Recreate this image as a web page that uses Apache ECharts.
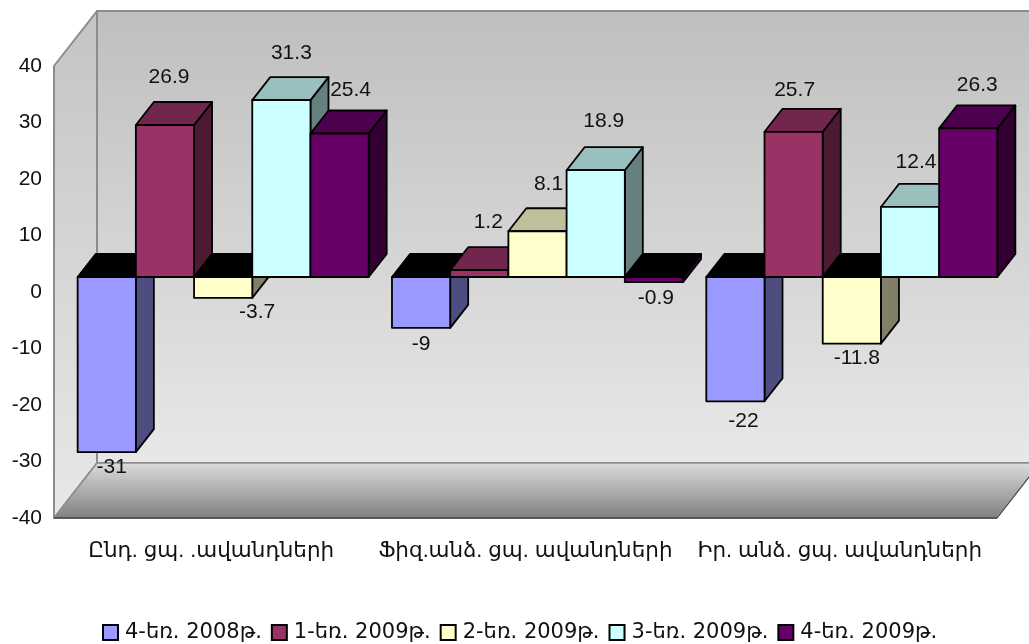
<!DOCTYPE html>
<html>
<head>
<meta charset="utf-8">
<style>html,body{margin:0;padding:0;background:#fff}#c{width:1029px;height:644px}</style>
<script src="https://cdn.jsdelivr.net/npm/echarts@6/dist/echarts.min.js"></script>
</head>
<body>
<div id="c"></div>
<script>
const categories = ['Ընդ. ցպ. .ավանդների', 'Ֆիզ.անձ. ցպ. ավանդների', 'Իր. անձ. ցպ. ավանդների'];
const seriesNames = ['4-եռ. 2008թ.', '1-եռ. 2009թ.', '2-եռ. 2009թ.', '3-եռ. 2009թ.', '4-եռ. 2009թ.'];
const q4_2008 = [-31, -9, -22];
const q1_2009 = [26.9, 1.2, 25.7];
const q2_2009 = [-3.7, 8.1, -11.8];
const q3_2009 = [31.3, 18.9, 12.4];
const q4_2009 = [25.4, -0.9, 26.3];
const yTicks = {min: -40, max: 40, interval: 10};

// styling and layout, separate from the values
const faces = [
  {front: '#9999ff', top: '#7373bf', side: '#4d4d80'},
  {front: '#993366', top: '#73264d', side: '#4d1a33'},
  {front: '#ffffcc', top: '#bfbf99', side: '#808066'},
  {front: '#ccffff', top: '#99bfbf', side: '#668080'},
  {front: '#660066', top: '#4d004d', side: '#330033'}
];
const allValues = [q4_2008, q1_2009, q2_2009, q3_2009, q4_2009];
const labelNudge = [
  [[5, 15], [0, 16], [8, 20]],
  [[4, -48], [9, -48], [1, -42]],
  [[34, 14], [11, -47], [5, 15]],
  [[10, -47], [8, -49], [6, -45]],
  [[11, -43], [2, 16], [9, -43]]
];
const wallDepth = [43, -55];
const barShift = [12, -15];
const barDepth = [18, -23];
const gapRatio = 0.4;
const stroke = '#000';
const labelFont = '21px "Liberation Sans", Arial, sans-serif';

function poly(points, fill, strokeColor, lw, z2) {
  return {type: 'polygon', z2: z2 || 0, shape: {points},
    style: {fill, stroke: strokeColor || stroke, lineWidth: lw === undefined ? 1.8 : lw, lineJoin: 'round'}};
}
function vGrad(a, b) {
  return {type: 'linear', x: 0, y: 0, x2: 0, y2: 1, colorStops: [{offset: 0, color: a}, {offset: 1, color: b}]};
}

function renderWalls(params, api) {
  const g = params.coordSys;
  const [dx, dy] = wallDepth;
  const L = g.x, R = g.x + g.width, T = g.y, B = g.y + g.height;
  return {type: 'group', children: [
    poly([[L + dx, T + dy], [R + dx, T + dy], [R + dx, B + dy], [L + dx, B + dy]], vGrad('#bfbfbf', '#e8e8e8'), '#8c8c8c', 2),
    poly([[L, T], [L + dx, T + dy], [L + dx, B + dy], [L, B]], vGrad('#c4c4c4', '#e8e8e8'), '#8c8c8c', 2),
    poly([[L, B], [L + dx, B + dy], [R + dx, B + dy], [R, B]], vGrad('#dcdcdc', '#7f7f7f'), '#8c8c8c', 1.5),
    {type: 'line', shape: {x1: L, y1: B, x2: R, y2: B}, style: {stroke: '#444', lineWidth: 1.5}},
    {type: 'line', shape: {x1: R, y1: B, x2: R + dx, y2: B + dy}, style: {stroke: '#444', lineWidth: 1}}
  ]};
}

function makeRender(k) {
  return function (params, api) {
    const i = api.value(0), v = api.value(1);
    const band = api.size([1, 0])[0];
    const w = band / (allValues.length + gapRatio);
    const base = api.coord([i, 0]);
    const val = api.coord([i, v]);
    const x0 = base[0] - band / 2 + w * gapRatio / 2 + k * w + barShift[0];
    const x1 = x0 + w;
    const y0 = base[1] + barShift[1];
    const yv = val[1] + barShift[1];
    const yTop = Math.min(y0, yv), yBot = Math.max(y0, yv);
    const [dx, dy] = barDepth;
    const f = faces[k];
    const nudge = labelNudge[k][i];
    return {type: 'group', children: [
      poly([[x1, yTop], [x1 + dx, yTop + dy], [x1 + dx, yBot + dy], [x1, yBot]], f.side),
      poly([[x0, yTop], [x0 + dx, yTop + dy], [x1 + dx, yTop + dy], [x1, yTop]], v < 0 ? '#000' : f.top),
      poly([[x0, yTop], [x1, yTop], [x1, yBot], [x0, yBot]], f.front),
      {type: 'text', z2: 100, x: (x0 + x1) / 2 + nudge[0], y: yv + nudge[1],
        style: {text: String(v), fill: '#111', font: labelFont, align: 'center', verticalAlign: 'middle'}}
    ]};
  };
}

const chart = echarts.init(document.getElementById('c'), null, {renderer: 'canvas'});
const barSeries = seriesNames.map((name, k) => ({
  name, type: 'custom', z: 2, clip: false,
  itemStyle: {color: faces[k].front, borderColor: '#000', borderWidth: 1.5},
  encode: {x: 0, y: 1},
  data: allValues[k].map((v, i) => [i, v]),
  renderItem: makeRender(k)
}));
chart.setOption({
  animation: false,
  backgroundColor: '#fff',
  grid: {left: 54, top: 66, width: 943, height: 452, containLabel: false},
  legend: {
    left: 102, top: 622, padding: 0, itemWidth: 15, itemHeight: 15, itemGap: 9, icon: 'rect',
    data: seriesNames,
    textStyle: {fontFamily: '"DejaVu Sans", sans-serif', fontSize: 21, color: '#111', padding: [0, 0, 0, 2]}
  },
  xAxis: {
    type: 'category', data: categories, position: 'bottom',
    axisLine: {show: false}, axisTick: {show: false}, splitLine: {show: false},
    axisLabel: {margin: 22, interval: 0, fontFamily: '"Liberation Sans", "DejaVu Sans", sans-serif', fontSize: 21.5, color: '#111'}
  },
  yAxis: {
    type: 'value', min: yTicks.min, max: yTicks.max, interval: yTicks.interval,
    axisLine: {show: false}, axisTick: {show: false}, splitLine: {show: false},
    axisLabel: {margin: 12, fontFamily: '"Liberation Sans", sans-serif', fontSize: 21, color: '#111'}
  },
  series: [{
    type: 'custom', z: 1, silent: true, clip: false, encode: {x: 0, y: 1},
    data: [[0, 0]], renderItem: renderWalls
  }].concat(barSeries)
});
</script>
</body>
</html>
